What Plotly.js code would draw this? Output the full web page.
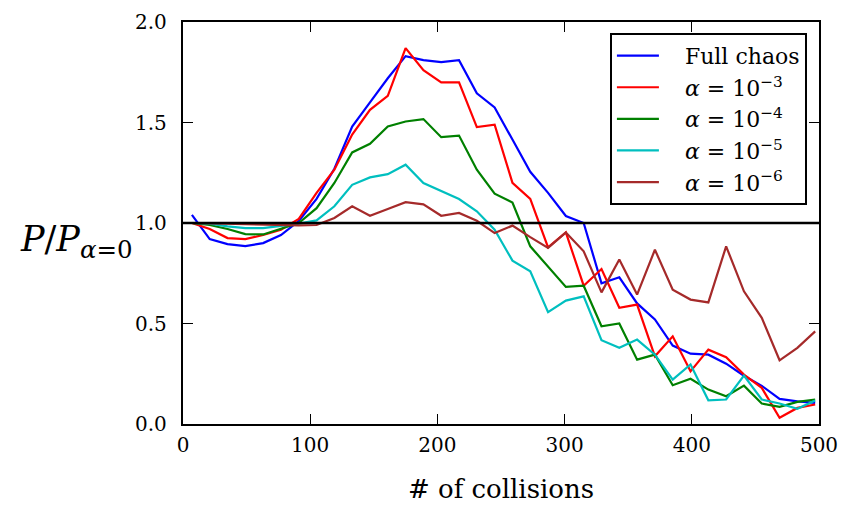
<!DOCTYPE html>
<html>
<head>
<meta charset="utf-8">
<script src="https://cdn.plot.ly/plotly-3.0.1.min.js"></script>
<style>html,body{margin:0;padding:0;background:#fff;}#chart{width:843px;height:508px;}</style>
</head>
<body>
<div id="chart"></div>
<script>
const collisions = [7,21,35,49,63,77,91,105,119,133,147,161,175,189,203,217,231,245,259,273,287,301,315,329,343,357,371,385,399,413,427,441,455,469,483,497];
const fullChaos = [1.04,0.92,0.895,0.885,0.90,0.94,1.01,1.12,1.27,1.48,1.60,1.72,1.83,1.81,1.80,1.81,1.645,1.575,1.415,1.255,1.15,1.035,1.0,0.70,0.73,0.60,0.52,0.39,0.35,0.345,0.30,0.24,0.19,0.125,0.113,0.105];
const alpha3 = [1.0,0.97,0.925,0.92,0.94,0.967,1.02,1.15,1.265,1.44,1.563,1.633,1.87,1.76,1.70,1.70,1.477,1.489,1.20,1.12,0.879,0.953,0.688,0.771,0.578,0.594,0.337,0.436,0.262,0.37,0.332,0.246,0.18,0.031,0.08,0.097];
const alpha4 = [1.0,0.99,0.97,0.945,0.943,0.97,1.0,1.074,1.199,1.351,1.394,1.48,1.505,1.517,1.427,1.435,1.265,1.146,1.102,0.884,0.784,0.682,0.688,0.486,0.50,0.32,0.345,0.193,0.225,0.171,0.138,0.191,0.102,0.085,0.11,0.122];
const alpha5 = [1.0,0.997,0.983,0.975,0.975,0.987,0.997,1.013,1.083,1.19,1.227,1.243,1.29,1.199,1.157,1.119,1.058,0.967,0.813,0.76,0.556,0.614,0.635,0.417,0.379,0.42,0.345,0.221,0.296,0.118,0.122,0.241,0.122,0.102,0.076,0.117];
const alpha6 = [1.0,0.998,0.995,0.993,0.99,0.99,0.988,0.99,1.025,1.083,1.036,1.07,1.104,1.093,1.036,1.05,1.011,0.95,0.987,0.93,0.876,0.953,0.859,0.655,0.818,0.644,0.867,0.668,0.619,0.605,0.884,0.66,0.528,0.317,0.379,0.461];
const seriesNames = ["Full chaos","<i>α</i> = 10<sup>−3</sup>","<i>α</i> = 10<sup>−4</sup>","<i>α</i> = 10<sup>−5</sup>","<i>α</i> = 10<sup>−6</sup>"];
const seriesColors = ["#0000ff","#ff0000","#008000","#00bfbf","#a52a2a"];
const xTicks = [0,100,200,300,400,500];
const yTicks = [0.0,0.5,1.0,1.5,2.0];

const allSeries = [fullChaos, alpha3, alpha4, alpha5, alpha6];
const FONT = "'DejaVu Serif', 'Liberation Serif', serif";
const PAD = "\u00a0\u00a0\u00a0";
const traces = allSeries.map((ys, i) => ({
  x: collisions, y: ys, type: 'scatter', mode: 'lines',
  name: PAD + seriesNames[i], line: {color: seriesColors[i], width: 2.2}
}));

const axisCommon = {
  showgrid: false, zeroline: false, showline: true, linecolor: '#000', linewidth: 2.2,
  mirror: 'allticks', ticks: 'inside', ticklen: 10, tickwidth: 1.3, tickcolor: '#000',
  tickfont: {family: FONT, size: 20, color: '#000'}
};

const layout = {
  width: 843, height: 508,
  margin: {l: 183, r: 24, t: 22, b: 84},
  paper_bgcolor: '#fff', plot_bgcolor: '#fff',
  font: {family: FONT, color: '#000'},
  showlegend: true,
  legend: {
    x: 0.981, xanchor: 'right', y: 0.973, yanchor: 'top',
    bordercolor: '#000', borderwidth: 2, bgcolor: '#fff',
    itemwidth: 42,
    font: {family: FONT, size: 22, color: '#000'}
  },
  xaxis: Object.assign({}, axisCommon, {
    range: [0, 500], tickvals: xTicks, ticktext: xTicks.map(String),
    ticklabelstandoff: 2,
    title: {text: '# of collisions', font: {family: FONT, size: 26, color: '#000'}, standoff: 24}
  }),
  yaxis: Object.assign({}, axisCommon, {
    range: [0, 2], tickvals: yTicks, ticktext: yTicks.map(v => v.toFixed(1)),
    ticklabelstandoff: 10
  }),
  shapes: [{type: 'line', xref: 'paper', x0: 0, x1: 1, yref: 'y', y0: 1, y1: 1,
    line: {color: '#000', width: 2.5}}],
  annotations: [{
    xref: 'paper', yref: 'paper', x: -0.168, y: 0.455, xanchor: 'center', yanchor: 'middle',
    showarrow: false, text: '<i>P</i>/<i>P</i><sub><i>α</i>=0</sub>',
    font: {family: FONT, size: 35, color: '#000'}
  }]
};

Plotly.newPlot('chart', traces, layout, {displayModeBar: false, staticPlot: true});
</script>
</body>
</html>
